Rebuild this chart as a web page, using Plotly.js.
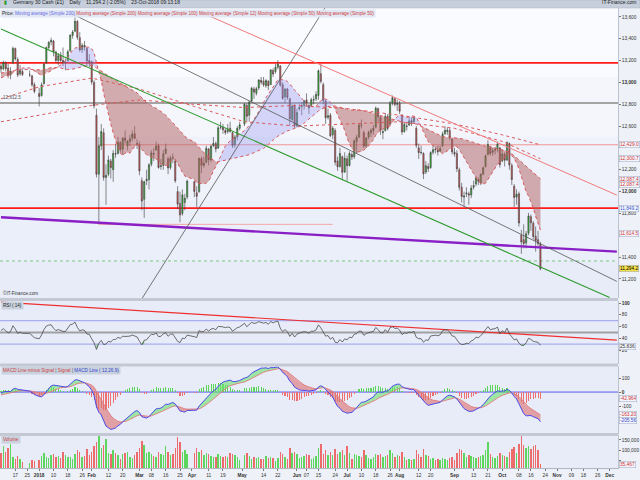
<!DOCTYPE html>
<html><head><meta charset="utf-8">
<script src="https://cdn.plot.ly/plotly-3.0.1.min.js"></script>
<style>html,body{margin:0;padding:0;background:#eef1f8}#chart{width:640px;height:480px}</style>
</head><body><div id="chart"></div>
<script>
// ---------- DATA ----------
const holidays = ['2017-12-25','2017-12-26','2018-01-01','2018-03-30','2018-04-02','2018-05-01'];
// closes before the visible window (Oct 2 - Dec 8 2017), used for indicator warm-up
const warmClose = [12902,12903,12970,12968,12955,12976,12949,12970,12982,12991,13003,12995,13043,12990,12991,13003,13013,12953,13133,13217,13229,13229,
 13465,13440,13478,13468,13406,13382,13183,13127,13074,13033,12976,13047,12994,13059,13168,13015,13023,13060,13006,13060,13062,13024,
 12861,13058,13048,12999,13045,13153];
const open = [
 13150,13125,13180,13130,13070,13180,13310,13210,13080,13100,13070,13060,12980,
 12900,12880,12990,13180,13320,13370,13380,13280,13200,13250,13200,13180,13200,13290,13430,13470,13560,13410,13300,13340,13310,13200,
 13190,13000,12700,12160,12420,12540,12130,12160,12280,12200,12350,12350,12450,12390,12490,12420,12460,12490,12530,12440,
 12430,12100,11930,12100,12110,12250,12350,12380,12420,12230,12240,12350,12300,12220,12310,12280,12000,11890,11800,11900,11950,
 12090,11990,12000,12300,12240,12270,12390,12290,12420,12440,12400,12590,12590,12560,12550,12580,12540,12430,12500,12580,
 12620,12790,12700,12830,12940,12900,12950,13020,13010,12970,13010,12980,13110,13100,13140,13150,12980,12870,12940,12850,12660,12790,
 12600,12760,12780,12790,12840,12790,12790,12840,12850,12880,13080,12980,12830,12680,12700,12520,12560,12280,12230,12320,12180,
 12300,12240,12340,12320,12460,12500,12610,12540,12420,12500,12540,12560,12590,12760,12680,12540,12560,12690,12620,12810,12850,12800,
 12810,12700,12550,12600,12610,12650,12640,12580,12400,12360,12350,12180,12230,12220,12360,12390,12380,12370,12420,12530,12550,12560,12480,
 12360,12350,12200,12040,11950,11980,11980,11970,12040,12070,12110,12080,12160,12230,12340,12400,12360,12380,12390,12400,
 12280,12340,12290,12440,12240,12050,11950,11980,11600,11560,11530,11620,11770,11710,11590,11560,11520];
const high = [
 13170,13200,13195,13170,13140,13330,13320,13230,13160,13120,13110,13070,13000,
 12950,13000,13180,13330,13380,13410,13390,13290,13270,13280,13320,13220,13300,13440,13480,13596,13570,13460,13360,13380,13320,13260,
 13200,13020,12760,12500,12620,12580,12250,12330,12300,12380,12440,12500,12460,12500,12560,12470,12520,12560,12600,12480,
 12460,12130,12100,12200,12260,12380,12400,12460,12440,12300,12380,12440,12320,12330,12350,12300,12050,12000,12020,11980,12110,
 12100,12050,12310,12320,12320,12420,12400,12430,12500,12460,12600,12640,12620,12580,12620,12640,12550,12520,12600,12640,
 12810,12810,12830,12960,12960,12960,13030,13050,13050,13030,13020,13120,13130,13170,13204,13160,13000,12950,12950,12860,12800,12800,
 12760,12800,12820,12840,12900,12800,12860,12880,12920,13120,13170,13000,12840,12760,12720,12600,12580,12320,12400,12330,12360,
 12330,12370,12360,12480,12520,12620,12660,12560,12500,12560,12580,12610,12780,12770,12700,12580,12720,12710,12830,12880,12860,12840,
 12830,12710,12630,12630,12680,12680,12690,12600,12440,12420,12360,12280,12260,12370,12420,12410,12420,12420,12550,12600,12590,12580,12490,
 12400,12380,12220,12080,12000,12040,12000,12060,12100,12140,12130,12170,12230,12340,12470,12420,12400,12410,12460,12410,
 12390,12360,12460,12450,12260,12070,12020,12000,11650,11700,11640,11805,11790,11730,11680,11640,11540];
const low = [
 13090,13110,13100,13040,13030,13170,13200,13050,13060,13060,13050,12960,12900,
 12780,12870,12980,13170,13300,13340,13240,13180,13160,13190,13150,13110,13190,13280,13400,13460,13390,13280,13270,13290,13150,13140,
 12980,12760,12130,11700,12380,12100,11880,12140,12120,12090,12310,12340,12360,12340,12440,12380,12420,12460,12480,12390,
 12150,11830,11760,12060,12020,12230,12280,12380,12210,12200,12200,12340,12160,12200,12260,12080,11840,11720,11780,11830,11930,
 11950,11860,11990,12170,12220,12260,12240,12270,12410,12360,12390,12570,12530,12520,12530,12540,12400,12400,12470,12560,
 12600,12640,12640,12820,12850,12880,12930,12980,12960,12950,12930,12980,13050,13080,13120,12960,12840,12810,12840,12600,12640,12580,
 12590,12740,12700,12750,12780,12710,12780,12800,12830,12840,12990,12800,12620,12660,12500,12480,12240,12190,12220,12104,12170,
 12100,12230,12290,12300,12350,12490,12580,12400,12400,12480,12500,12520,12580,12640,12520,12480,12550,12560,12610,12790,12780,12740,
 12710,12520,12540,12560,12600,12600,12620,12400,12300,12340,12115,12160,12180,12210,12340,12350,12330,12360,12410,12520,12520,12470,12340,
 12320,12180,12010,11900,11865,11950,11880,11940,12020,12050,12060,12060,12150,12220,12330,12330,12330,12340,12360,12220,
 12270,12230,12280,12200,12060,11860,11880,11680,11430,11480,11480,11600,11640,11560,11450,11500,11280];
const close = [
 13123,13183,13126,13068,13103,13312,13215,13069,13110,13072,13070,12979,12918,
 12871,12978,13167,13320,13367,13385,13282,13202,13245,13201,13184,13183,13281,13434,13463,13560,13414,13298,13340,13324,13198,13189,
 13004,12785,12160,12420,12550,12130,12150,12290,12220,12350,12346,12452,12385,12488,12470,12461,12483,12527,12490,12436,
 12190,11914,12090,12113,12245,12355,12346,12418,12221,12237,12345,12390,12217,12307,12309,12100,11886,11787,11970,11940,12096,
 12002,11957,12305,12241,12261,12397,12293,12415,12442,12391,12585,12590,12567,12540,12572,12550,12422,12500,12580,12612,
 12802,12690,12819,12948,12912,12943,13022,13001,12978,13018,12970,13115,13077,13140,13169,12977,12855,12938,12863,12667,12783,12605,
 12724,12770,12787,12830,12811,12767,12842,12842,12890,13107,13011,12834,12677,12695,12512,12580,12270,12228,12349,12177,12306,
 12238,12350,12317,12465,12496,12609,12609,12417,12492,12541,12561,12580,12765,12686,12561,12548,12689,12579,12809,12860,12798,12806,
 12737,12546,12616,12598,12648,12634,12676,12424,12358,12358,12163,12237,12210,12358,12384,12385,12365,12394,12527,12561,12563,12494,12364,
 12346,12210,12040,11956,11960,11987,11970,12032,12055,12124,12096,12157,12219,12326,12431,12350,12374,12385,12435,12247,
 12346,12287,12450,12244,12111,11947,11977,11712,11539,11524,11614,11777,11715,11589,11553,11524,11294];
const volume = [
 88000,120000,95000,110000,130000,70000,60000,75000,58000,45000,40000,55000,50000,
 55000,75000,90000,70000,65000,80000,85000,70000,72000,65000,95000,80000,70000,68000,60000,85000,100000,95000,70000,75000,105000,80000,
 95000,120000,140000,172000,110000,125000,155000,90000,85000,100000,90000,80000,60000,85000,90000,95000,70000,65000,80000,95000,
 110000,145000,125000,90000,95000,85000,75000,70000,95000,85000,80000,120000,95000,80000,85000,110000,165000,140000,95000,100000,85000,
 90000,110000,95000,100000,80000,90000,85000,75000,70000,70000,85000,75000,70000,75000,70000,90000,85000,80000,70000,55000,
 80000,90000,75000,60000,70000,65000,70000,60000,60000,75000,65000,70000,65000,50000,65000,95000,85000,70000,60000,110000,90000,95000,
 85000,65000,70000,75000,85000,80000,60000,65000,75000,110000,130000,85000,100000,80000,95000,80000,105000,85000,95000,100000,80000,
 120000,90000,60000,85000,80000,75000,70000,100000,80000,65000,60000,70000,85000,80000,85000,70000,75000,80000,100000,90000,70000,80000,
 75000,95000,70000,55000,60000,55000,60000,100000,85000,70000,105000,80000,75000,60000,65000,55000,60000,55000,65000,60000,55000,65000,70000,
 55000,90000,105000,100000,90000,70000,80000,75000,70000,65000,70000,75000,80000,100000,140000,85000,70000,65000,75000,90000,
 80000,75000,70000,95000,105000,115000,90000,130000,170000,125000,110000,120000,105000,120000,125000,100000,35467];
// longer moving averages
const maLongDates = ['2017-12-11','2018-01-02','2018-02-01','2018-03-01','2018-04-03','2018-05-02','2018-06-01','2018-07-02','2018-08-01','2018-09-03','2018-10-01','2018-10-23'];
const ma200Vals = [12640,12700,12790,12840,12800,12770,12790,12760,12700,12620,12520,12429];
const ma100Vals = [12850,12960,13040,12940,12780,12640,12600,12620,12640,12580,12460,12301];
// drawn trend lines (endpoints)
const greenX = ['2017-12-11','2018-12-03'], greenY = [13490,11029];
const channelX = ['2018-01-19','2018-12-06'], channelY = [13637,11178];
const steepX = ['2018-03-02','2018-06-20'], steepY = [11018,13727];
const salmonX = ['2018-04-05','2018-12-06'], salmonY = [13650,11968];
const purpleX = ['2017-12-11','2018-12-06'], purpleY = [11765,11450];
const rsiTrendX = ['2017-12-11','2018-12-06'], rsiTrendY = [101.5,36.8];
// horizontal levels
const redLevels = [13180, 11849.2];
const grayLevel = 12812.5;
const thinLevelA = 12429.0, thinLevelAStart = '2018-02-06';
const thinLevelB = 11700, thinLevelBStart = '2018-02-06', thinLevelBEnd = '2018-06-22';
const greenDotLevel = 11365;
// tick labels
const tickDates = ['2017-12-19','2017-12-26','2018-01-02','2018-01-10','2018-01-18','2018-01-26','2018-02-01','2018-02-12','2018-02-20','2018-03-01','2018-03-08','2018-03-16','2018-03-26','2018-04-02','2018-04-11','2018-04-19','2018-05-01','2018-05-14','2018-05-22','2018-06-01','2018-06-07','2018-06-14','2018-06-25','2018-07-02','2018-07-10','2018-07-18','2018-07-26','2018-08-01','2018-08-13','2018-08-20','2018-09-03','2018-09-13','2018-09-21','2018-10-01','2018-10-10','2018-10-17','2018-10-25','2018-11-01','2018-11-09','2018-11-16','2018-11-26','2018-12-03'];
const tickLabels = ['17','25','<b>2018</b>','10','18','26','<b>Feb</b>','12','20','<b>Mar</b>','08','16','25','<b>Apr</b>','11','19','<b>May</b>','14','22','<b>Jun</b>','07','15','24','<b>Jul</b>','10','18','26','<b>Aug</b>','12','20','<b>Sep</b>','13','21','<b>Oct</b>','08','16','24','<b>Nov</b>','09','18','26','<b>Dec</b>'];
// ticks hidden behind value tags in the reference are left without text
const priceTicks = [11200,11400,11600,11800,12000,12200,12400,12600,12800,13000,13200,13400,13600];
const priceTickText = ['11,200','11,400','','11,800','<b>12,000</b>','12,200','','12,600','12,800','<b>13,000</b>','13,200','13,400','13,600'];
const rsiTicks = [20,40,60,80,100];
const rsiTickText = ['20','40','60','80','<b>100</b>'];
const macdTicks = [-100,0,100];
const macdTickText = ['-100','<b>0</b>','100'];
const volTicks = [50000,100000,150000];
const volTickText = ['','100,000','150,000'];
const priceTagVals = [12429.0, 12300.7, 12087.4, 12087.4, 11849.2, 11614.5, 11294.2];
const priceTagText = ['12,429.0','12,300.7','12,087.4','12,087.4','11,849.2','11,614.5','11,294.2'];
const rsiTag = 25.836;
const macdTagVals = [-42.964, -163.20, -205.56];
const macdTagText = ['-42.964','-163.20','-205.56'];
const volTag = 35467;

// ---------- HELPERS ----------
function tradingDays(start, end, skip) {
  const out = []; const d = new Date(start + 'T00:00:00Z'); const e = new Date(end + 'T00:00:00Z');
  while (d <= e) { const w = d.getUTCDay(); const s = d.toISOString().slice(0, 10);
    if (w !== 0 && w !== 6 && skip.indexOf(s) < 0) out.push(s); d.setUTCDate(d.getUTCDate() + 1); }
  return out;
}
function sma(a, n) { const o = []; let s = 0; for (let i = 0; i < a.length; i++) { s += a[i]; if (i >= n) s -= a[i - n]; o.push(i >= n - 1 ? s / n : null); } return o; }
function ema(a, n) { const k = 2 / (n + 1); const o = []; let p = a[0]; for (let i = 0; i < a.length; i++) { p = i ? a[i] * k + p * (1 - k) : a[i]; o.push(p); } return o; }
function rsiCalc(a, n) { const o = [null]; let g = 0, l = 0;
  for (let i = 1; i < a.length; i++) { const d = a[i] - a[i - 1]; const up = Math.max(d, 0), dn = Math.max(-d, 0);
    if (i <= n) { g += up / n; l += dn / n; o.push(i === n ? 100 - 100 / (1 + g / l) : null); }
    else { g = (g * (n - 1) + up) / n; l = (l * (n - 1) + dn) / n; o.push(100 - 100 / (1 + g / l)); } }
  return o; }
function bandTraces(xs, a, b, upColor, downColor, yaxis) {
  const out = []; const n = xs.length; let start = 0; const up = i => a[i] >= b[i];
  for (let i = 1; i <= n; i++) {
    if (i === n || up(i) !== up(start)) {
      const color = up(start) ? upColor : downColor;
      if (color) { const end = Math.min(i, n - 1); const px = [], py = [];
        for (let j = start; j <= end; j++) { px.push(xs[j]); py.push(a[j]); }
        for (let j = end; j >= start; j--) { px.push(xs[j]); py.push(b[j]); }
        out.push({type:'scatter', mode:'lines', x:px, y:py, fill:'toself', fillcolor:color, line:{width:0}, hoverinfo:'skip', showlegend:false, xaxis:'x', yaxis:yaxis}); }
      start = i; } }
  return out; }
function seg(x, y, color, width, yaxis, dash) { return {type:'scatter', mode:'lines', x:x, y:y, line:{color:color, width:width, dash:dash||'solid'}, hoverinfo:'skip', showlegend:false, xaxis:'x', yaxis:yaxis||'y'}; }

// ---------- DERIVED ----------
const dates = tradingDays('2017-12-11', '2018-10-23', holidays);
const allClose = warmClose.concat(close); const W = warmClose.length;
const ma12 = sma(allClose, 12).slice(W);
const ma50 = sma(allClose, 50).slice(W);
const e12 = ema(allClose, 12), e26 = ema(allClose, 26);
const macdAll = e12.map((v, i) => v - e26[i]); const sigAll = ema(macdAll, 9);
const macd = macdAll.slice(W), signal = sigAll.slice(W); const hist = macd.map((v, i) => v - signal[i]);
const rsi = rsiCalc(allClose, 14).slice(W);
const lvl30 = rsi.map(() => 30), lvl70 = rsi.map(() => 70);
const upDown = close.map((c, i) => c >= open[i]);
const xEnd = '2018-12-06 12:00';

// ---------- TRACES ----------
const traces = [];
bandTraces(dates, ma12, ma50, 'rgba(150,150,240,0.35)', 'rgba(175,95,95,0.5)', 'y').forEach(t => traces.push(t));
traces.push(seg(maLongDates, ma200Vals, '#d85a5a', 1, 'y', 'dot'));
traces.push(seg(maLongDates, ma100Vals, '#d85a5a', 1, 'y', 'dot'));
traces.push(seg(dates, ma50, '#d85a5a', 1, 'y', 'dot'));
traces.push(seg(dates, ma12, '#d85a5a', 1, 'y', 'dot'));
traces.push(seg(purpleX, purpleY, '#8a1fc6', 2.4));
traces.push(seg(greenX, greenY, '#2e9a2e', 1.1));
traces.push(seg(channelX, channelY, '#555555', 0.8));
traces.push(seg(steepX, steepY, '#555555', 0.8));
traces.push(seg(salmonX, salmonY, '#f07a7a', 1));
traces.push({type:'candlestick', x:dates, open:open, high:high, low:low, close:close,
  increasing:{line:{color:'#3a3a3a', width:0.6}, fillcolor:'#31bf31'},
  decreasing:{line:{color:'#3a3a3a', width:0.6}, fillcolor:'#e05656'},
  whiskerwidth:0, hoverinfo:'skip', showlegend:false, xaxis:'x', yaxis:'y'});
// RSI
bandTraces(dates, rsi, lvl30, null, 'rgba(90,180,90,0.75)', 'y2').forEach(t => traces.push(t));
bandTraces(dates, rsi, lvl70, 'rgba(220,90,90,0.6)', null, 'y2').forEach(t => traces.push(t));
traces.push(seg(rsiTrendX, rsiTrendY, '#ee3030', 1.2, 'y2'));
traces.push(seg(dates, rsi, '#4a4a4a', 0.8, 'y2'));
// MACD
traces.push({type:'bar', x:dates, y:hist, width:0.45 * 86400000, marker:{color:hist.map(v => v >= 0 ? '#5ad65a' : '#ee7070')}, hoverinfo:'skip', showlegend:false, xaxis:'x', yaxis:'y3'});
bandTraces(dates, macd, signal, 'rgba(110,225,110,0.6)', 'rgba(220,110,110,0.6)', 'y3').forEach(t => traces.push(t));
traces.push(seg(dates, signal, '#e07a7a', 0.9, 'y3'));
traces.push(seg(dates, macd, '#4a4ae8', 1, 'y3'));
// Volume
traces.push({type:'bar', x:dates, y:volume, width:0.6 * 86400000, marker:{color:upDown.map(u => u ? '#5cd65c' : '#ee6b6b')}, hoverinfo:'skip', showlegend:false, xaxis:'x', yaxis:'y4'});

// ---------- SHAPES ----------
const shapes = [];
[[0.85,1,0.8],[0.72,0.85,0.55],[0.58,0.72,0.35],[0.45,0.58,0.18]].forEach(b => shapes.push({type:'rect', xref:'paper', yref:'paper', x0:0, x1:1, y0:b[0], y1:b[1], fillcolor:'rgba(255,255,255,' + b[2] + ')', line:{width:0}, layer:'below'}));
redLevels.forEach(v => shapes.push({type:'line', xref:'paper', x0:0, x1:1, yref:'y', y0:v, y1:v, line:{color:'#ff1a1a', width:1.8}, layer:'below'}));
shapes.push({type:'line', xref:'paper', x0:0, x1:1, yref:'y', y0:grayLevel, y1:grayLevel, line:{color:'#a4a4a4', width:2}, layer:'below'});
shapes.push({type:'line', xref:'x', x0:thinLevelAStart, x1:xEnd, yref:'y', y0:thinLevelA, y1:thinLevelA, line:{color:'#f08a8a', width:0.9}, layer:'below'});
shapes.push({type:'line', xref:'x', x0:thinLevelBStart, x1:thinLevelBEnd, yref:'y', y0:thinLevelB, y1:thinLevelB, line:{color:'#f4a0a0', width:0.9}, layer:'below'});
shapes.push({type:'line', xref:'paper', x0:0, x1:1, yref:'y', y0:greenDotLevel, y1:greenDotLevel, line:{color:'#60c060', width:0.8, dash:'dot'}, layer:'below'});
[70, 30].forEach(v => shapes.push({type:'line', xref:'paper', x0:0, x1:1, yref:'y2', y0:v, y1:v, line:{color:'#a8aef0', width:1.4}, layer:'below'}));
shapes.push({type:'line', xref:'paper', x0:0, x1:1, yref:'y2', y0:50, y1:50, line:{color:'#a0a0a0', width:2}, layer:'below'});
shapes.push({type:'line', xref:'paper', x0:0, x1:1, yref:'y3', y0:0, y1:0, line:{color:'#5a5aee', width:1}, layer:'below'});
[[0.3630,0.3697],[0.2207,0.2271],[0.0697,0.0760]].forEach(g => shapes.push({type:'rect', xref:'paper', yref:'paper', x0:0, x1:1, y0:g[0], y1:g[1], fillcolor:'#c3c8d2', line:{width:0}}));
shapes.push({type:'rect', xref:'paper', yref:'paper', x0:0, x1:640/618, y0:1, y1:1 + 8/460, fillcolor:'#c6cfdb', line:{color:'#a9b3c2', width:0.5}});

// ---------- ANNOTATIONS ----------
const F = 'Liberation Sans, Arial, sans-serif';
const ann = [];
function box(y, yref, text, color, bg) { return {xref:'paper', x:1, xanchor:'left', xshift:1, yref:yref, y:y, yanchor:'middle', text:text, showarrow:false, font:{family:F, size:4.8, color:color}, bgcolor:bg || '#f3f5fb', bordercolor:'#9aa6c0', borderwidth:0.5, borderpad:0.4}; }
priceTagVals.forEach((v, i) => {
  const color = (i === 4) ? '#3355cc' : (i === 6 ? '#000000' : '#d03030');
  const a = box(v, 'y', priceTagText[i], color, i === 6 ? '#f5e04a' : null);
  if (i === 2) a.yshift = 2.5; if (i === 3) a.yshift = -2.5;
  ann.push(a); });
ann.push(box(rsiTag, 'y2', '25.836', '#333333'));
macdTagVals.forEach((v, i) => ann.push(box(v, 'y3', macdTagText[i], i === 2 ? '#3344cc' : '#d03030')));
ann.push(box(volTag, 'y4', '35,467', '#d03030'));
ann.push({xref:'paper', x:0.018, yref:'paper', y:1, yanchor:'bottom', yshift:0.5, xanchor:'left', showarrow:false,
  text:'Germany 30 Cash (£1)\u00a0\u00a0\u00a0\u00a0Daily\u00a0\u00a0\u00a0\u00a011,294.2 (-2.05%)\u00a0\u00a0\u00a0\u00a023-Oct-2018 09:13:18', font:{family:F, size:5, color:'#1a1a1a'}});
ann.push({xref:'paper', x:0.003, yref:'paper', y:1, yanchor:'bottom', yshift:1, xanchor:'left', showarrow:false, text:'<b>▮</b>', font:{family:F, size:5, color:'#2a9a2a'}});
ann.push({xref:'paper', x:640/618, xshift:-2, xanchor:'right', yref:'paper', y:1, yanchor:'bottom', yshift:0.5, showarrow:false, text:'IT-Finance.com', font:{family:F, size:5, color:'#1a1a1a'}});
ann.push({xref:'paper', x:0, xanchor:'left', yref:'paper', y:1, yanchor:'top', yshift:-0.5, showarrow:false, bgcolor:'rgba(222,228,242,0.9)',
  text:'Price: <span style="color:#6a6ae6">Moving average (Simple 200)</span> <span style="color:#d04040">Moving average (Simple 200)</span> <span style="color:#d04040">Moving average (Simple 100)</span> <span style="color:#d04040">Moving average (Simple 12)</span> <span style="color:#d04040">Moving average (Simple 50)</span> <span style="color:#d04040">Moving average (Simple 50)</span>',
  font:{family:F, size:4.6, color:'#222'}});
ann.push({xref:'paper', x:0, xanchor:'left', xshift:1, yref:'y', y:grayLevel, yanchor:'bottom', yshift:1, showarrow:false, text:'12,812.5', font:{family:F, size:4.6, color:'#555'}});
ann.push({xref:'paper', x:0, xanchor:'left', xshift:1, yref:'paper', y:0.3697, yanchor:'bottom', showarrow:false, text:'©IT-Finance.com', font:{family:F, size:4.6, color:'#333'}});
ann.push({xref:'paper', x:0, xanchor:'left', xshift:1, yref:'paper', y:0.3641, yanchor:'top', showarrow:false, text:'RSI ( 14)', bgcolor:'#c9d2de', font:{family:F, size:4.6, color:'#222'}});
ann.push({xref:'paper', x:0, xanchor:'left', xshift:1, yref:'paper', y:0.2217, yanchor:'top', showarrow:false, bgcolor:'#c9d2de',
  text:'<span style="color:#d04040">MACD Line minus Signal</span> | <span style="color:#d04040">Signal</span> | <span style="color:#3344cc">MACD Line ( 12,26,9)</span>', font:{family:F, size:4.6, color:'#555'}});
ann.push({xref:'paper', x:0, xanchor:'left', xshift:1, yref:'paper', y:0.0707, yanchor:'top', showarrow:false, text:'Volume', bgcolor:'#c9d2de', font:{family:F, size:4.6, color:'#d04040'}});

// ---------- LAYOUT ----------
const axisFont = {family:F, size:4.8, color:'#333'};
const yBase = {side:'right', anchor:'x', showgrid:false, zeroline:false, showline:true, linecolor:'#b0b6c4', linewidth:0.8, ticks:'outside', ticklen:2, tickcolor:'#777', tickfont:axisFont, fixedrange:true};
const layout = {
  width:640, height:480, margin:{l:0, r:22, t:8, b:12},
  paper_bgcolor:'#eef1f8', plot_bgcolor:'#e7ecf8', showlegend:false, hovermode:false, bargap:0,
  font:{family:F, size:5, color:'#333'},
  xaxis:{type:'date', range:['2017-12-08 14:00', xEnd], rangebreaks:[{bounds:['sat','mon']}], tickmode:'array', tickvals:tickDates, ticktext:tickLabels,
    tickangle:0, tickfont:axisFont, ticks:'outside', ticklen:2, tickcolor:'#777', showgrid:false, zeroline:false, showline:true, linecolor:'#b0b6c4', anchor:'y4', rangeslider:{visible:false}, fixedrange:true},
  yaxis:Object.assign({}, yBase, {domain:[0.3685, 1], range:[11021, 13682], tickmode:'array', tickvals:priceTicks, ticktext:priceTickText}),
  yaxis2:Object.assign({}, yBase, {domain:[0.2261, 0.3641], range:[-3.8, 104.3], tickmode:'array', tickvals:rsiTicks, ticktext:rsiTickText}),
  yaxis3:Object.assign({}, yBase, {domain:[0.0750, 0.2217], range:[-296, 186], tickmode:'array', tickvals:macdTicks, ticktext:macdTickText}),
  yaxis4:Object.assign({}, yBase, {domain:[0, 0.0707], range:[16700, 171400], tickmode:'array', tickvals:volTicks, ticktext:volTickText}),
  shapes:shapes, annotations:ann
};
Plotly.newPlot('chart', traces, layout, {displayModeBar:false, staticPlot:true});
</script></body></html>
